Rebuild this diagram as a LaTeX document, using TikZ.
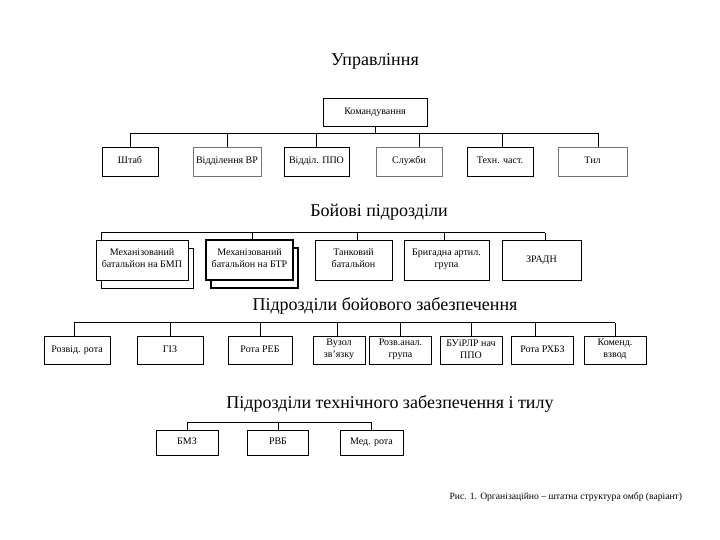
\documentclass[tikz,border=0pt]{standalone}
\usepackage{fontspec}
\setmainfont{Liberation Serif}
\usetikzlibrary{shadows}

\begin{document}
\begin{tikzpicture}[x=1pt,y=-1pt,
        unit/.style={draw,line width=0.8pt,fill=white,inner sep=1pt,align=center,font=\fontsize{10}{12}\selectfont,
            execute at begin node=\strut,execute at end node=\strut},
        pale/.style={draw=black!55},
        heading/.style={font=\fontsize{18}{21}\selectfont},
        link/.style={line width=0.8pt},
        stack/.style={copy shadow={shadow xshift=5pt,shadow yshift=-8pt}}]
            \useasboundingbox (0,0) rectangle (720,540);

            % headings
            \node[heading] (hctrl) at (375,61) {Управління};
            \node[heading] (hcomb) at (379,212) {Бойові підрозділи};
            \node[heading] (hsupp) at (385,306) {Підрозділи бойового забезпечення};
            \node[heading] (hrear) at (390,404) {Підрозділи технічного забезпечення і тилу};

            % control
            \node[unit,minimum width=104,minimum height=28] (cmd) at (375,112) {Командування};
            \node[unit,minimum width=56,minimum height=29] (stab) at (130,161.5) {Штаб};
            \node[unit,pale,minimum width=68,minimum height=29] (vr) at (227,161.5) {Відділення ВР};
            \node[unit,minimum width=65,minimum height=29] (ppo) at (316.5,161.5) {Відділ. ППО};
            \node[unit,pale,minimum width=66,minimum height=29] (sl) at (409,161.5) {Служби};
            \node[unit,minimum width=66,minimum height=29] (tech) at (500,161.5) {Техн. част.};
            \node[unit,pale,minimum width=69,minimum height=29] (tyl) at (592.5,161.5) {Тил};

            \coordinate (bus1) at (375,133);
            \draw[link] (cmd.south) -- (bus1);
            \foreach \n/\dx in {stab/0,vr/0,ppo/0,sl/10,tech/2,tyl/5.5}
                \draw[link] ([xshift=\dx pt]\n.north) -- ([xshift=\dx pt]\n.north |- bus1);
            \draw[link] (stab.north |- bus1) -- ([xshift=5.5pt]tyl.north |- bus1);

            % combat units
            \begin{scope}[every node/.append style={font=\fontsize{11}{14}\selectfont}]
                \node[unit,stack,minimum width=92,minimum height=40] (mbmp) at (142,260) {Механізований\\батальйон на БМП};
                \node[unit,stack,line width=1.3pt,minimum width=87,minimum height=40] (mbtr) at (249.5,260) {Механізований\\батальйон на БТР};
                \node[unit,minimum width=77,minimum height=40] (tank) at (353.5,260) {Танковий\\батальйон};
                \node[unit,minimum width=85,minimum height=40] (art) at (446.5,260) {Бригадна артил.\\група};
                \node[unit,minimum width=79,minimum height=40] (zradn) at (541.5,260) {ЗРАДН};
            \end{scope}

            \coordinate (bus2) at (320,232.5);
            \foreach \n/\dx in {mbmp/-41,mbtr/2.5,tank/3.5,art/-2.5,zradn/3.5}
                \draw[link] ([xshift=\dx pt]\n.north) -- ([xshift=\dx pt]\n.north |- bus2);
            \draw[link] ([xshift=-41pt]mbmp.north |- bus2) -- ([xshift=3.5pt]zradn.north |- bus2);

            % combat support
            \begin{scope}[every node/.append style={font=\fontsize{10.5}{12.5}\selectfont,minimum height=28}]
                \node[unit,minimum width=66] (rozv) at (77,350.5) {Розвід. рота};
                \node[unit,minimum width=66] (giz) at (170,350.5) {ГІЗ};
                \node[unit,minimum width=64] (reb) at (260,350.5) {Рота РЕБ};
                \node[unit,minimum width=52] (vuz) at (339,350.5) {Вузол\\зв’язку};
                \node[unit,minimum width=62] (ran) at (400.5,350.5) {Розв.анал.\\група};
                \node[unit,minimum width=62] (bu) at (471,350.5) {БУіРЛР нач\\ППО};
                \node[unit,minimum width=62] (rhbz) at (542.5,350.5) {Рота РХБЗ};
                \node[unit,minimum width=62] (kom) at (615,350.5) {Коменд.\\взвод};
            \end{scope}

            \coordinate (bus3) at (345,322.5);
            \foreach \n/\dx in {rozv/-3,giz/0,reb/0,vuz/-2,ran/0,bu/0,rhbz/-7.5,kom/0}
                \draw[link] ([xshift=\dx pt]\n.north) -- ([xshift=\dx pt]\n.north |- bus3);
            \draw[link,line width=1.2pt] ([xshift=-3pt]rozv.north |- bus3) -- (kom.north |- bus3);

            % technical support and rear
            \begin{scope}[every node/.append style={font=\fontsize{10.5}{12}\selectfont,minimum height=25}]
                \node[unit,minimum width=62] (bmz) at (187,442.5) {БМЗ};
                \node[unit,minimum width=61] (rvb) at (278,442.5) {РВБ};
                \node[unit,minimum width=63] (med) at (371.5,442.5) {Мед. рота};
            \end{scope}

            \coordinate (bus4) at (280,422.5);
            \foreach \n in {bmz,rvb,med}
                \draw[link] (\n.north) -- (\n.north |- bus4);
            \draw[link,line width=1.2pt] (bmz.north |- bus4) -- (med.north |- bus4);

            \node[anchor=west,font=\fontsize{9.6}{11}\selectfont] (cap) at (446,497) {Рис. 1. Організаційно -- штатна структура омбр (варіант)};
        \end{tikzpicture}
\end{document}
